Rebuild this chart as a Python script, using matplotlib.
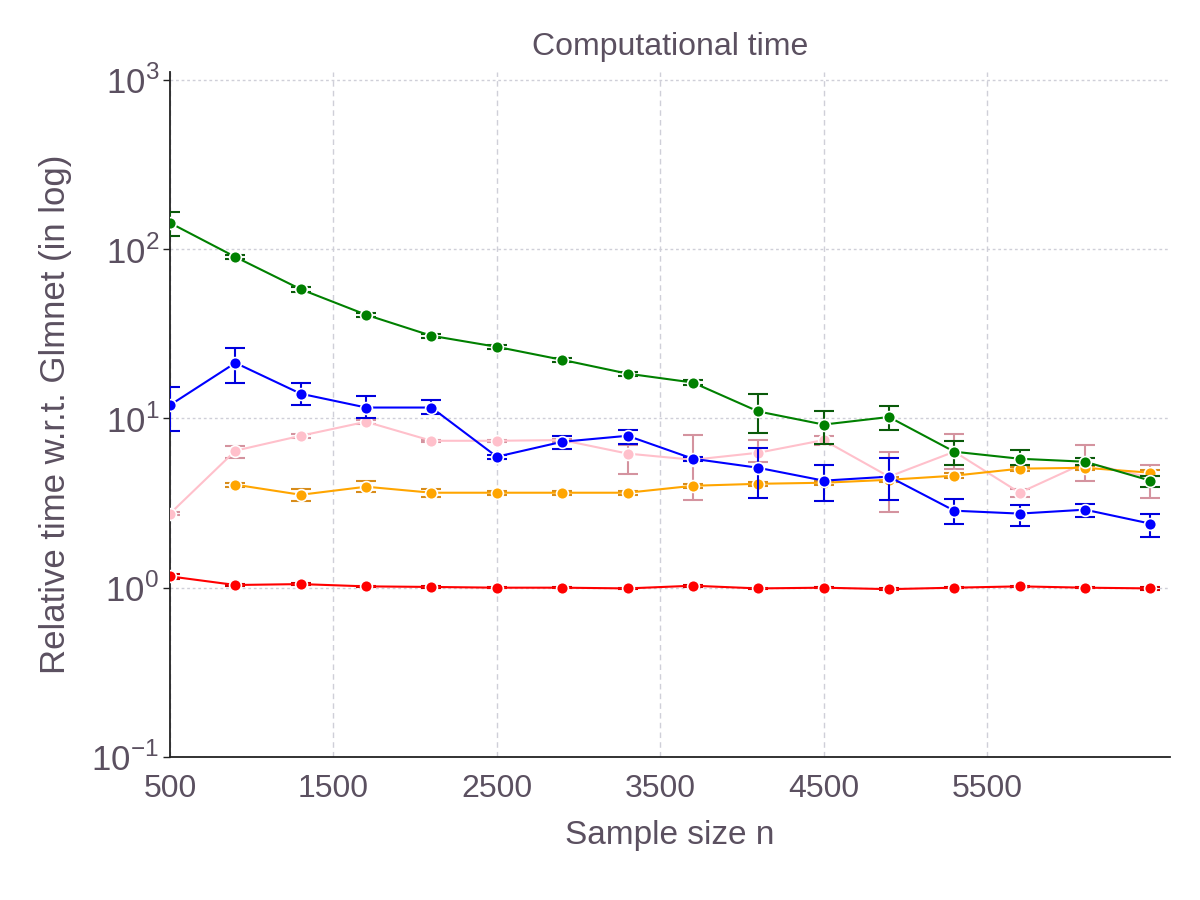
import matplotlib
matplotlib.use("Agg")
import matplotlib.pyplot as plt
from matplotlib import font_manager
import numpy as np

n = [500, 900, 1300, 1700, 2100, 2500, 2900, 3300, 3700, 4100, 4500, 4900, 5300, 5700, 6100, 6500]

green = [143, 90, 58, 41, 30.8, 26.5, 22.2, 18.4, 16.3, 11.0, 9.2, 10.2, 6.36, 5.78, 5.55, 4.29]
green_lo = [120, 87, 56, 40, 30, 25.8, 21.6, 17.9, 15.8, 8.2, 7.1, 8.6, 5.3, 5.3, 5.3, 3.95]
green_hi = [167, 93, 60, 42, 31.6, 27.2, 22.8, 18.9, 16.8, 13.9, 11.1, 11.9, 7.4, 6.5, 5.8, 4.6]

blue = [12.0, 21.3, 14.0, 11.6, 11.6, 5.94, 7.28, 7.9, 5.78, 5.11, 4.29, 4.53, 2.85, 2.74, 2.89, 2.39]
blue_lo = [8.4, 16.2, 12.0, 10.1, 10.6, 5.75, 6.6, 7.1, 5.6, 3.4, 3.26, 3.3, 2.39, 2.33, 2.63, 2.0]
blue_hi = [15.4, 26.1, 16.2, 13.5, 12.9, 6.1, 7.9, 8.6, 5.95, 6.7, 5.3, 5.85, 3.36, 3.1, 3.14, 2.74]

pink = [2.74, 6.45, 7.9, 9.56, 7.38, 7.38, 7.45, 6.2, 5.7, 6.27, 7.45, 4.53, 6.36, 3.64, 5.47, 4.47]
pink_lo = [2.7, 5.85, 7.7, 9.3, 7.25, 7.25, 7.3, 4.7, 3.3, 5.5, 7.0, 2.81, 5.0, 3.45, 4.29, 3.4]
pink_hi = [2.8, 6.9, 8.1, 9.8, 7.5, 7.5, 7.6, 7.0, 8.0, 7.5, 7.9, 6.36, 8.1, 3.85, 7.0, 5.3]

orange_n = [900, 1300, 1700, 2100, 2500, 2900, 3300, 3700, 4100, 4500, 4900, 5300, 5700, 6100, 6500]
orange = [4.06, 3.54, 3.95, 3.64, 3.64, 3.64, 3.64, 4.0, 4.11, 4.17, 4.34, 4.59, 5.05, 5.11, 4.78]
orange_lo = [3.95, 3.26, 3.69, 3.45, 3.55, 3.55, 3.55, 3.9, 4.0, 4.05, 4.2, 4.45, 4.9, 4.95, 4.6]
orange_hi = [4.17, 3.84, 4.29, 3.84, 3.73, 3.73, 3.73, 4.1, 4.22, 4.29, 4.48, 4.73, 5.2, 5.27, 4.96]

red = [1.166, 1.037, 1.05, 1.018, 1.01, 1.0, 1.0, 0.99, 1.027, 0.99, 1.0, 0.98, 1.0, 1.018, 1.0, 0.99]
red_lo = [1.12, 1.025, 1.035, 1.008, 1.0, 0.99, 0.99, 0.98, 1.015, 0.98, 0.99, 0.97, 0.99, 1.005, 0.99, 0.975]
red_hi = [1.21, 1.05, 1.065, 1.028, 1.02, 1.01, 1.01, 1.0, 1.04, 1.0, 1.01, 0.99, 1.01, 1.03, 1.01, 1.005]

xticks = [500, 1500, 2500, 3500, 4500, 5500]

txt = "#5b5060"
avail = {f.name for f in font_manager.fontManager.ttflist}
fam = "Liberation Sans Narrow" if "Liberation Sans Narrow" in avail else "Liberation Sans"
plt.rcParams["font.family"] = [fam, "DejaVu Sans"]
plt.rcParams["mathtext.fontset"] = "custom"
plt.rcParams["mathtext.rm"] = fam

fig = plt.figure(figsize=(12, 9), dpi=100)
ax = fig.add_axes([0.1417, 0.159, 0.8333, 0.761])

series = [
    (n, pink, pink_lo, pink_hi, "pink", "#d4939f"),
    (orange_n, orange, orange_lo, orange_hi, "orange", "#d88c1a"),
    (n, blue, blue_lo, blue_hi, "blue", "#0000dd"),
    (n, green, green_lo, green_hi, "green", "#0a5a0a"),
    (n, red, red_lo, red_hi, "red", "#cc0000"),
]
for i, (x, y, lo, hi, c, ec) in enumerate(series):
    y = np.array(y); lo = np.array(lo); hi = np.array(hi)
    ax.errorbar(x, y, yerr=[y - lo, hi - y], fmt="none", ecolor=ec,
                elinewidth=1.5, capsize=7, capthick=1.5, zorder=3 + i)
    ax.plot(x, y, color=c, lw=1.5, marker="o", ms=8.5, mfc=c, mec="white",
            mew=1.2, zorder=3.5 + i)

ax.set_yscale("log")
ax.set_ylim(0.1, 1115)
ax.set_xlim(500, 6620)
ax.set_xticks(xticks)
ax.set_xticklabels([str(t) for t in xticks])
ax.set_yticks([0.1, 1, 10, 100, 1000])
ax.set_yticklabels([r"$10^{-1}$", r"$10^{0}$", r"$10^{1}$", r"$10^{2}$", r"$10^{3}$"])
ax.minorticks_off()

ax.grid(True, axis="x", color="#cfcfd8", linestyle=(0, (4, 3)), lw=1)
ax.grid(True, axis="y", color="#cfcfd8", linestyle=(0, (2, 2)), lw=1)
ax.set_axisbelow(True)
for s in ["top", "right"]:
    ax.spines[s].set_visible(False)
for s in ["left", "bottom"]:
    ax.spines[s].set_color("#222222")
    ax.spines[s].set_linewidth(1.3)

ax.tick_params(axis="both", colors="#222222", labelcolor=txt, labelsize=23, length=5, width=1)
ax.tick_params(axis="y", labelsize=25, pad=3)
ax.tick_params(axis="x", length=0, pad=12)

ax.set_title("Computational time", color=txt, fontsize=23, pad=12)
ax.set_xlabel("Sample size n", color=txt, fontsize=24, labelpad=12)
ax.set_ylabel("Relative time w.r.t. Glmnet (in log)", color=txt, fontsize=25, labelpad=14)

fig.savefig("out.png", dpi=100)
